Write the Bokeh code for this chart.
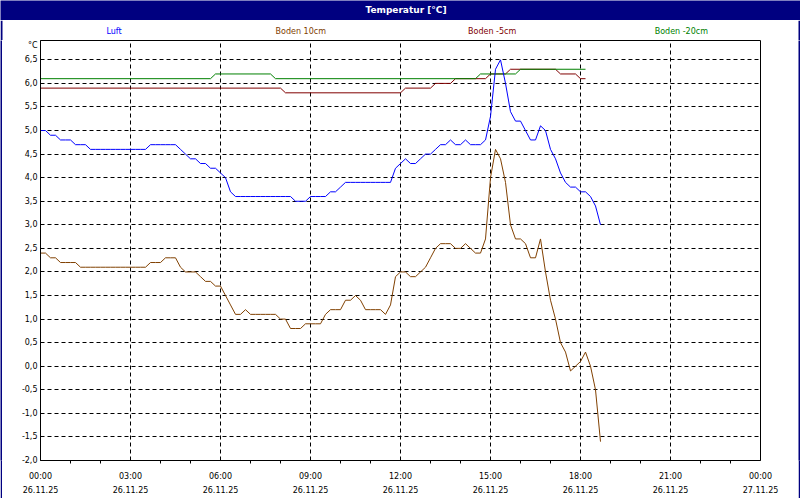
from bokeh.plotting import figure
from bokeh.layouts import column, row
from bokeh.models import FixedTicker, Range1d, ColumnDataSource
from bokeh.embed import file_html
from bokeh.resources import INLINE
from bokeh.core.properties import value

# ---------------- data ----------------
chart_title = "Temperatur [°C]"
unit_label = "°C"
series_names = ["Luft", "Boden 10cm", "Boden -5cm", "Boden -20cm"]
series_colors = ["#0000FF", "#804000", "#800000", "#008000"]

# Luft and Boden 10cm: one reading every 10 minutes from 00:00 to 18:40
sample_minutes = list(range(0, 1121, 10))
luft = [
    5.0, 5.0, 4.9, 4.9, 4.8, 4.8, 4.8, 4.7, 4.7, 4.7,
    4.6, 4.6, 4.6, 4.6, 4.6, 4.6, 4.6, 4.6, 4.6, 4.6,
    4.6, 4.6, 4.7, 4.7, 4.7, 4.7, 4.7, 4.7, 4.6, 4.5,
    4.4, 4.4, 4.3, 4.3, 4.2, 4.2, 4.1, 4.0, 3.7, 3.6,
    3.6, 3.6, 3.6, 3.6, 3.6, 3.6, 3.6, 3.6, 3.6, 3.6,
    3.6, 3.5, 3.5, 3.5, 3.6, 3.6, 3.6, 3.6, 3.7, 3.7,
    3.8, 3.9, 3.9, 3.9, 3.9, 3.9, 3.9, 3.9, 3.9, 3.9,
    3.9, 4.2, 4.3, 4.4, 4.3, 4.3, 4.4, 4.5, 4.5, 4.6,
    4.7, 4.7, 4.8, 4.7, 4.7, 4.8, 4.7, 4.7, 4.7, 4.8,
    5.3, 6.3, 6.5, 6.0, 5.4, 5.2, 5.2, 5.0, 4.8, 4.8,
    5.1, 5.0, 4.6, 4.4, 4.1, 3.9, 3.8, 3.8, 3.7, 3.7,
    3.6, 3.4, 3.0,
]
boden_10 = [
    2.4, 2.4, 2.3, 2.3, 2.2, 2.2, 2.2, 2.2, 2.1, 2.1,
    2.1, 2.1, 2.1, 2.1, 2.1, 2.1, 2.1, 2.1, 2.1, 2.1,
    2.1, 2.1, 2.2, 2.2, 2.2, 2.3, 2.3, 2.3, 2.1, 2.0,
    2.0, 2.0, 1.9, 1.8, 1.8, 1.7, 1.7, 1.5, 1.3, 1.1,
    1.1, 1.2, 1.1, 1.1, 1.1, 1.1, 1.1, 1.1, 1.0, 1.0,
    0.8, 0.8, 0.8, 0.9, 0.9, 0.9, 0.9, 1.1, 1.2, 1.2,
    1.2, 1.4, 1.4, 1.5, 1.4, 1.2, 1.2, 1.2, 1.2, 1.1,
    1.3, 1.9, 2.0, 2.0, 1.9, 1.9, 2.0, 2.1, 2.3, 2.5,
    2.6, 2.6, 2.6, 2.5, 2.5, 2.6, 2.5, 2.4, 2.4, 2.7,
    4.0, 4.6, 4.4, 3.9, 3.0, 2.7, 2.7, 2.6, 2.3, 2.3,
    2.7, 2.0, 1.4, 1.0, 0.5, 0.3, -0.1, 0.0, 0.1, 0.3,
    0.0, -0.5, -1.6,
]
# Boden -5cm and Boden -20cm: readings where the value changes (minutes)
boden_m5_minutes = [0, 480, 490, 720, 730, 780, 790, 820, 830, 890, 900, 930, 940, 1030, 1040, 1070, 1080, 1090]
boden_m5 = [5.9, 5.9, 5.8, 5.8, 5.9, 5.9, 6.0, 6.0, 6.1, 6.1, 6.2, 6.2, 6.3, 6.3, 6.2, 6.2, 6.1, 6.1]
boden_m20_minutes = [0, 340, 350, 460, 470, 870, 880, 950, 960, 1090]
boden_m20 = [6.1, 6.1, 6.2, 6.2, 6.1, 6.1, 6.2, 6.2, 6.3, 6.3]

x_ticks_h = [0, 3, 6, 9, 12, 15, 18, 21, 24]
x_tick_labels = ["00:00\n26.11.25", "03:00\n26.11.25", "06:00\n26.11.25", "09:00\n26.11.25",
                 "12:00\n26.11.25", "15:00\n26.11.25", "18:00\n26.11.25", "21:00\n26.11.25",
                 "00:00\n27.11.25"]
x_minor_h = [h for h in range(25) if h % 3]
y_ticks = [-2.0, -1.5, -1.0, -0.5, 0.0, 0.5, 1.0, 1.5, 2.0, 2.5, 3.0, 3.5, 4.0, 4.5, 5.0, 5.5, 6.0, 6.5]
y_tick_labels = ["-2,0", "-1,5", "-1,0", "-0,5", "0,0", "0,5", "1,0", "1,5", "2,0", "2,5",
                 "3,0", "3,5", "4,0", "4,5", "5,0", "5,5", "6,0", "6,5"]
unit_tick = 6.8  # where the unit "°C" sits on the y axis

# ---------------- layout constants ----------------
W, H = 800, 500
EDGE = 2
FONT = "DejaVu Sans"
NAVY = "#000080"
title_x, title_y = 405.5, 9.5
legend_x = [113.5, 300.3, 491.7, 680.8]
legend_y = 30.5


def strip(w, h):
    f = figure(width=w, height=h, toolbar_location=None, output_backend="svg", min_border=0,
               x_axis_type=None, y_axis_type=None, outline_line_color=None, title=None,
               background_fill_color=NAVY, border_fill_color=NAVY)
    f.grid.grid_line_color = None
    return f


def band(y0, y1, fill):
    f = figure(width=W, height=y1 - y0, x_range=Range1d(0, W), y_range=Range1d(y1, y0),
               toolbar_location=None, output_backend="svg", min_border=0,
               x_axis_type=None, y_axis_type=None, outline_line_color=None, title=None,
               background_fill_color=fill, border_fill_color=fill)
    f.grid.grid_line_color = None
    return f


# title bar
tb = band(0, 20, NAVY)
tb.text(x=[title_x], y=[title_y], text=[chart_title], text_color="white",
        text_font=value(FONT), text_font_size="9px", text_font_style="bold",
        text_align="center", text_baseline="middle")

# series names row
lg = band(20, 40, "white")
lg.quad(left=[0, W - EDGE], right=[EDGE, W], top=[20, 20], bottom=[40, 40],
        fill_color=NAVY, line_color=None)
lg.text(x=legend_x, y=[legend_y] * 4, text=series_names, text_color=series_colors,
        text_font=value(FONT), text_font_size="8px",
        text_align="center", text_baseline="middle")

# ---------------- main plot ----------------
MAIN_H = H - 40 - EDGE
p = figure(width=W - 2 * EDGE, height=MAIN_H, x_range=Range1d(0, 24), y_range=Range1d(-2.0, 6.91),
           toolbar_location=None, output_backend="svg", title=None,
           min_border_left=40 - EDGE, min_border_right=40 - EDGE, min_border_top=0,
           min_border_bottom=MAIN_H - 420,
           background_fill_color="white", border_fill_color="white",
           outline_line_color="black", outline_line_width=1)


def hours(mins):
    return [m / 60 for m in mins]


src_m5 = ColumnDataSource(dict(x=hours(boden_m5_minutes), y=boden_m5))
src_m20 = ColumnDataSource(dict(x=hours(boden_m20_minutes), y=boden_m20))
src_b10 = ColumnDataSource(dict(x=hours(sample_minutes), y=boden_10))
src_luft = ColumnDataSource(dict(x=hours(sample_minutes), y=luft))

p.line("x", "y", source=src_m5, line_color=series_colors[2], line_width=1)
p.line("x", "y", source=src_m20, line_color=series_colors[3], line_width=1)
p.line("x", "y", source=src_b10, line_color=series_colors[1], line_width=1)
p.line("x", "y", source=src_luft, line_color=series_colors[0], line_width=1)

xa = p.xaxis[0]
xa.ticker = FixedTicker(ticks=x_ticks_h, minor_ticks=x_minor_h)
xa.major_label_overrides = {t: lab for t, lab in zip(x_ticks_h, x_tick_labels)}
xa.major_tick_out = 0
xa.major_tick_in = 0
xa.minor_tick_out = 3
xa.minor_tick_in = 0
xa.major_label_standoff = 8
xa.major_label_text_font = FONT
xa.major_label_text_font_size = "8px"
xa.major_label_text_color = "black"
xa.major_label_text_line_height = 1.6
xa.axis_line_color = "black"

ya = p.yaxis[0]
ya.ticker = FixedTicker(ticks=y_ticks + [unit_tick])
ya.major_label_overrides = {**{t: lab for t, lab in zip(y_ticks, y_tick_labels)}, unit_tick: unit_label}
ya.major_tick_out = 0
ya.major_tick_in = 0
ya.minor_tick_line_color = None
ya.major_label_standoff = 3
ya.major_label_text_font = FONT
ya.major_label_text_font_size = "8px"
ya.major_label_text_color = "black"
ya.axis_line_color = "black"

for g in (p.xgrid[0], p.ygrid[0]):
    g.grid_line_color = "black"
    g.grid_line_dash = "4 3"
    g.grid_line_width = 1
p.xgrid[0].ticker = FixedTicker(ticks=x_ticks_h)
p.ygrid[0].ticker = FixedTicker(ticks=y_ticks)

body = row(strip(EDGE, MAIN_H), p, strip(EDGE, MAIN_H), spacing=0)
layout = column(tb, lg, body, strip(W, EDGE), spacing=0)

open("out.html", "w").write(file_html(layout, INLINE))
